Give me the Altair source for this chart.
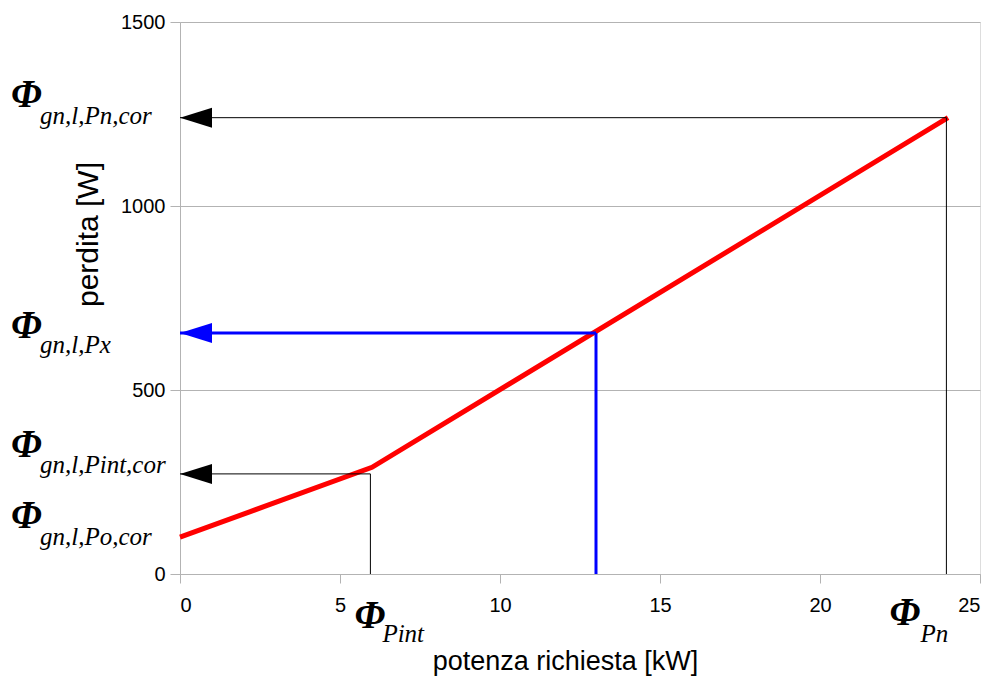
import altair as alt
import pandas as pd

# ---- data ----
red_x = [0, 6, 24]
red_y = [100, 290, 1240]
blue_x = [13]
blue_y = [655]
black_x = [5.95, 23.95]
black_y = [272, 1240]
x_ticks = [0, 5, 10, 15, 20, 25]
y_ticks = [0, 500, 1000, 1500]

phi = "\u03a6"
# (subscript text, anchor x, anchor y)
y_labels = [
    ("gn,l,Pn,cor", 0, 1240),
    ("gn,l,Px", 0, 655),
    ("gn,l,Pint,cor", 0, 272),
    ("gn,l,Po,cor", 0, 100),
]
x_labels = [
    ("Pint", 5.95, 0),
    ("Pn", 23.95, 0),
]
# pixel offsets (phi dx, phi dy, sub dx, sub dy)
y_offsets = [(-169, -11, -140, 6), (-169, 5, -140, 20), (-169, -17, -140, -1), (-169, -9, -140, 8)]
x_offsets = [(-16, 54, 12, 68), (-57, 51, -26, 68)]

red_df = pd.DataFrame({"x": red_x, "y": red_y})
blue_df = pd.DataFrame({"x": blue_x, "y": blue_y, "x0": [0] * len(blue_x), "y0": [0] * len(blue_x)})
black_df = pd.DataFrame({"x": black_x, "y": black_y, "x0": [0] * len(black_x), "y0": [0] * len(black_x)})

xscale = alt.Scale(domain=[0, 25], nice=False, zero=False)
yscale = alt.Scale(domain=[0, 1500], nice=False, zero=False)

xaxis = alt.Axis(values=x_ticks, format="d", title="potenza richiesta [kW]", grid=False,
                 domainColor="#b3b3b3", tickColor="#b3b3b3", tickSize=9,
                 labelPadding=12, labelFontSize=20, labelColor="black",
                 labelFont="Liberation Sans", titleFont="Liberation Sans",
                 titleFontSize=27, titleFontWeight="normal", titleColor="black",
                 titleBaseline="middle", titleY=87, titleX=385)
yaxis = alt.Axis(values=y_ticks, format="d", title="perdita [W]", grid=True, gridColor="#b3b3b3",
                 domainColor="#b3b3b3", tickColor="#b3b3b3", tickSize=10,
                 labelPadding=5, labelFontSize=20, labelColor="black",
                 labelFont="Liberation Sans", titleFont="Liberation Sans",
                 titleFontSize=30, titleFontWeight="normal", titleColor="black",
                 titleAngle=-90, titleBaseline="middle", titleX=-92, titleY=212)

X = alt.X("x:Q", scale=xscale, axis=xaxis)
Y = alt.Y("y:Q", scale=yscale, axis=yaxis)

red = alt.Chart(red_df).mark_line(color="#ff0000", strokeWidth=5, clip=False).encode(x=X, y=Y)

def guides(df, color, width):
    h = alt.Chart(df).mark_rule(color=color, strokeWidth=width).encode(
        x=alt.X("x0:Q", scale=xscale, axis=xaxis), x2="x:Q", y=Y)
    v = alt.Chart(df).mark_rule(color=color, strokeWidth=width).encode(
        x=X, y=alt.Y("y0:Q", scale=yscale, axis=yaxis), y2="y:Q")
    a = alt.Chart(df).mark_point(shape="M 0 0 L 2 -0.625 L 2 0.625 Z", size=1024,
                                 filled=True, color=color, opacity=1, strokeWidth=0).encode(
        x=alt.X("x0:Q", scale=xscale, axis=xaxis), y=Y)
    return [h, v, a]

layers = [red]
layers += guides(black_df, "black", 1)
layers += guides(blue_df, "#0000ff", 3)

def label_layers(items, offsets):
    out = []
    for (sub, ax, ay), (pdx, pdy, sdx, sdy) in zip(items, offsets):
        d = pd.DataFrame({"x": [ax], "y": [ay], "main": [phi], "sub": [sub]})
        out.append(alt.Chart(d).mark_text(font="Liberation Serif", fontStyle="italic",
                                          fontWeight="bold", fontSize=39, align="left",
                                          baseline="alphabetic", dx=pdx, dy=pdy,
                                          color="black").encode(x=X, y=Y, text="main:N"))
        out.append(alt.Chart(d).mark_text(font="Liberation Serif", fontStyle="italic",
                                          fontSize=25, align="left", baseline="alphabetic",
                                          dx=sdx, dy=sdy, color="black").encode(x=X, y=Y, text="sub:N"))
    return out

layers += label_layers(y_labels, y_offsets)
layers += label_layers(x_labels, x_offsets)

chart = alt.layer(*layers).properties(
    width=800, height=552,
    autosize=alt.AutoSizeParams(type="none"),
    padding={"left": 172, "top": 14, "right": 7, "bottom": 103},
).configure_view(stroke=None).configure(background="white")

chart.save("out.html", embed_options={"renderer": "svg", "actions": False})
